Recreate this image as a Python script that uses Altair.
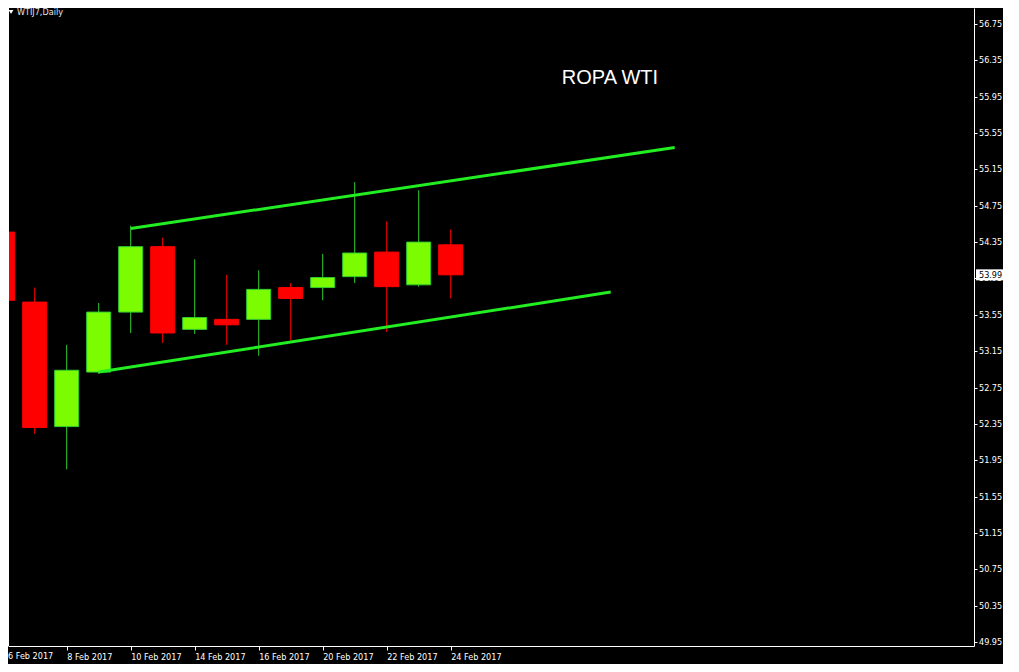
import altair as alt
import pandas as pd

# ---- data ----
dates = ["6 Feb 2017", "7 Feb 2017", "8 Feb 2017", "9 Feb 2017", "10 Feb 2017",
         "13 Feb 2017", "14 Feb 2017", "15 Feb 2017", "16 Feb 2017", "17 Feb 2017",
         "20 Feb 2017", "21 Feb 2017", "22 Feb 2017", "23 Feb 2017", "24 Feb 2017"]
opens = [54.46, 53.69, 52.32, 52.92, 53.58, 54.30, 53.39, 53.50, 53.50, 53.85,
         53.85, 53.97, 54.24, 53.88, 54.32]
highs = [54.75, 53.85, 53.22, 53.68, 54.53, 54.40, 54.16, 53.99, 54.04, 53.90,
         54.22, 55.01, 54.58, 54.92, 54.49]
lows = [53.51, 52.24, 51.85, 52.90, 53.35, 53.24, 53.34, 53.22, 53.10, 53.27,
        53.71, 53.90, 53.36, 53.86, 53.73]
closes = [53.71, 52.31, 52.94, 53.58, 54.30, 53.35, 53.52, 53.44, 53.83, 53.73,
          53.96, 54.23, 53.86, 54.35, 53.99]

# channel (trend) lines: bar index and price of each end
chan_name = ["upper", "upper", "lower", "lower"]
chan_idx = [4, 21, 3, 19]
chan_price = [54.50, 55.39, 52.92, 53.80]

y_ticks = [49.95, 50.35, 50.75, 51.15, 51.55, 51.95, 52.35, 52.75, 53.15,
           53.55, 53.95, 54.35, 54.75, 55.15, 55.55, 55.95, 56.35, 56.75]
x_tick_idx = [0, 2, 4, 6, 8, 10, 12, 14]

title_text = "ROPA WTI"
symbol_text = "WTIJ7,Daily"

# ---- tables ----
df = pd.DataFrame({
    "i": list(range(len(dates))),
    "date": dates,
    "open": opens,
    "high": highs,
    "low": lows,
    "close": closes,
})
df["dir"] = ["up" if c >= o else "down" for o, c in zip(opens, closes)]

chan = pd.DataFrame({"name": chan_name, "i": chan_idx, "p": chan_price})
ytk = pd.DataFrame({"v": y_ticks})

W, H = 966, 638
PX_PER_PRICE = 90.88

label_expr = "[" + ",".join("'" + d + "'" for d in dates) + "][datum.value]"
AX_FONT = "DejaVu Sans Condensed, DejaVu Sans"

xs = alt.Scale(domain=[0.1656, 30.353], nice=False, zero=False, padding=0)
ys = alt.Scale(domain=[49.906, 56.926], nice=False, zero=False, padding=0)

x_axis = alt.Axis(values=x_tick_idx, labelExpr=label_expr, labelAlign="left",
                  labelBaseline="top", labelPadding=2, tickSize=4, title=None,
                  grid=False, labelOverlap=False, labelBound=False, labelFlush=False)
# y axis: domain line and ticks only, labels are drawn by a text layer
y_axis = alt.Axis(values=y_ticks, orient="right", labels=False, tickSize=3,
                  title=None, grid=False)


def X(field):
    return alt.X(field, scale=xs, axis=x_axis)


def Y(field):
    return alt.Y(field, scale=ys, axis=y_axis)


stroke_scale = alt.Scale(domain=["up", "down"], range=["#32CD32", "#FF0000"])
fill_scale = alt.Scale(domain=["up", "down"], range=["#7CFC00", "#FF0000"])

base = alt.Chart(df)

wicks = base.mark_rule(strokeWidth=1, clip=True).encode(
    x=X("i:Q"),
    y=Y("low:Q"),
    y2="high:Q",
    stroke=alt.Stroke("dir:N", scale=stroke_scale, legend=None),
)

bodies = base.mark_bar(size=24, strokeWidth=1, clip=True).encode(
    x=X("i:Q"),
    y=Y("open:Q"),
    y2="close:Q",
    fill=alt.Fill("dir:N", scale=fill_scale, legend=None),
    stroke=alt.Stroke("dir:N", scale=stroke_scale, legend=None),
)

lines = alt.Chart(chan).mark_line(strokeWidth=3, color="#22EE22", clip=True).encode(
    x=X("i:Q"),
    y=Y("p:Q"),
    detail="name:N",
)

# y tick labels (every value of the price ladder)
ylabels = alt.Chart(ytk).mark_text(
    align="left", baseline="middle", color="white", fontSize=9, font=AX_FONT
).encode(
    x=alt.value(W + 5),
    y=Y("v:Q"),
    text=alt.Text("v:Q", format=".2f"),
)

# first date label sits left of the visible area, draw it at the left edge
first = df.head(1)
xlabel0 = alt.Chart(first).mark_text(
    align="left", baseline="top", color="white", fontSize=9, font=AX_FONT
).encode(x=alt.value(0), y=alt.value(H + 6), text="date:N")

last = df.tail(1)
price_box = alt.Chart(last).transform_calculate(
    lo="datum.close - 5.5 / " + str(PX_PER_PRICE),
    hi="datum.close + 5.5 / " + str(PX_PER_PRICE),
).mark_rect(color="white").encode(
    x=alt.value(W + 2), x2=alt.value(W + 33),
    y=Y("lo:Q"), y2="hi:Q",
)
price_text = alt.Chart(last).mark_text(
    align="left", baseline="middle", color="black", fontSize=9, font=AX_FONT
).encode(
    x=alt.value(W + 5),
    y=Y("close:Q"),
    text=alt.Text("close:Q", format=".2f"),
)

one = pd.DataFrame({"k": [0]})
left_border = alt.Chart(one).mark_rule(color="white", strokeWidth=1).encode(
    x=alt.value(0.5), y=alt.value(0), y2=alt.value(H)
)
title = alt.Chart(one).mark_text(
    color="white", fontSize=20, align="center", baseline="middle",
    font="Liberation Sans Narrow, Arial Narrow, Liberation Sans",
).encode(x=alt.value(602), y=alt.value(70), text=alt.value(title_text))

tri = alt.Chart(one).mark_point(shape="triangle-down", filled=True, color="white",
                                size=22, opacity=1).encode(
    x=alt.value(3), y=alt.value(4)
)
sym = alt.Chart(one).mark_text(
    color="#e8e8e8", fontSize=9, align="left", baseline="middle", font=AX_FONT
).encode(x=alt.value(9), y=alt.value(4), text=alt.value(symbol_text))

chart = alt.layer(
    wicks, bodies, lines, ylabels, xlabel0, price_box, price_text,
    left_border, title, tri, sym
).properties(
    width=W, height=H,
    padding={"left": 0, "top": 0, "right": 29, "bottom": 18},
    autosize=alt.AutoSizeParams(type="none"),
    background="black",
).configure_view(
    stroke=None, fill="black"
).configure_axis(
    domainColor="white", domainWidth=1, tickColor="white", tickWidth=1,
    labelColor="white", labelFont=AX_FONT, labelFontSize=9,
)

chart.save("out.html", embed_options={"renderer": "svg", "actions": False})
